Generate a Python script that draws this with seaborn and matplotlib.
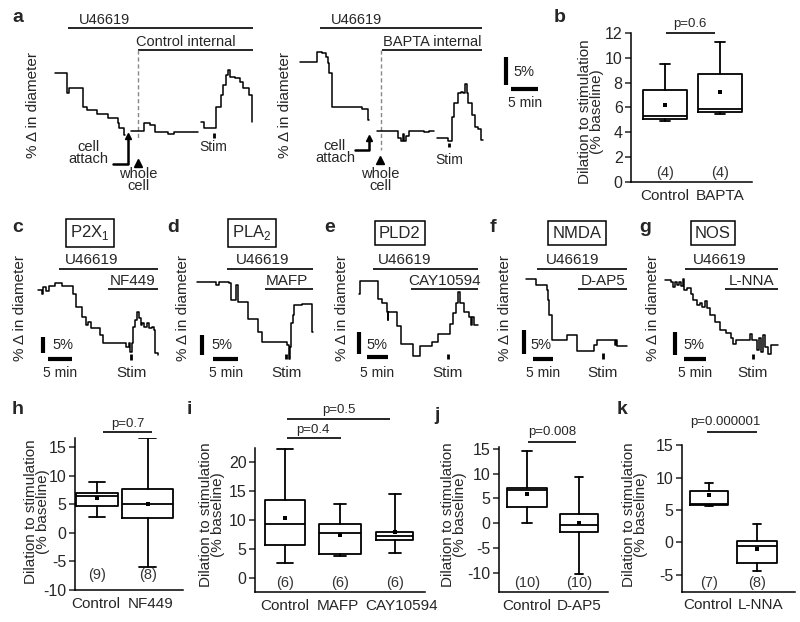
import pandas as pd
import matplotlib.pyplot as plt
import matplotlib.transforms as mtrans
import seaborn as sns

sns.set_style('ticks')
plt.rcParams['font.family'] = ['Liberation Sans', 'DejaVu Sans']
plt.rcParams['mathtext.fontset'] = 'custom'
plt.rcParams['mathtext.rm'] = 'Liberation Sans'
plt.rcParams['axes.unicode_minus'] = False

W, H = 800, 622

# ---- traces: time (min) and % change in diameter, one list per segment ----
a_ctrl_t = [[0, 2.3, 2.5, 5.2, 5.9, 7.8, 9.9, 11.7, 11.9, 12.8, 13.0],
            [14.1, 16.5, 17.6, 18.5, 21.0, 22.0, 26.5],
            [27.0, 27.5, 29.8, 30.7, 31.2, 31.6, 32.1, 32.4, 33.3, 34.3, 34.9, 36.0, 36.4, 36.5]]
a_ctrl_v = [[0, -3.6, -2.7, -6.0, -6.6, -7.3, -8.0, -8.9, -9.8, -11.1, -11.1],
            [-10.4, -8.9, -9.3, -10.6, -10.9, -10.5, -10.5],
            [-8.7, -9.9, -6.0, -3.9, -2.1, -0.4, 0.6, -0.7, -0.9, -1.6, -2.7, -3.9, -8.7, -8.7]]

a_bapta_t = [[0, 3.1, 4.0, 4.8, 5.1, 5.4, 5.9, 11.4, 12.5, 12.8],
             [14.2, 18.2, 18.7, 19.0, 19.3, 19.6, 20.1, 23.0, 23.9, 24.9],
             [25.3, 27.4, 28.2, 28.6, 29.2, 29.8, 30.1, 30.6, 30.9, 31.2, 31.8, 32.4, 32.9, 33.6, 33.8]]
a_bapta_v = [[0, 1.8, 1.6, 0.9, -0.3, -2.1, -8.0, -8.5, -10.4, -10.4],
             [-12.3, -13.7, -14.1, -12.9, -14.1, -13.3, -12.3, -12.6, -12.3, -12.3],
             [-13.7, -14.1, -9.8, -7.4, -5.6, -5.4, -5.6, -3.9, -5.6, -7.4, -9.5, -11.6, -12.0, -14.0, -14.0]]

c_t = [0, 0.7, 1.0, 1.7, 2.2, 3.5, 4.4, 4.9, 7.2, 7.8, 9.0, 9.9, 10.4, 10.9, 12.8, 13.5, 18.3,
       18.8, 19.2, 19.6, 19.8, 20.1, 20.5, 21.0, 21.4, 21.7, 22.1, 22.6, 23.1, 23.6, 24.0, 24.3, 25.0]
c_v = [0, -1.3, 0.8, -0.3, 1.2, 2.2, 2.0, 1.2, -1.3, -5.0, -8.2, -10.5, -9.5, -11.5, -13.5, -15.8, -17.0,
       -16.0, -18.5, -16.0, -11.0, -9.0, -6.5, -8.5, -10.5, -9.8, -11.0, -10.0, -11.5, -11.0, -12.0, -19.0, -19.5]

d_t = [0, 3.9, 4.5, 6.5, 6.8, 7.9, 8.3, 10.3, 12.3, 13.0, 18.0, 18.4, 18.7, 18.9, 19.2, 19.5, 21.0, 23.1, 23.3]
d_v = [0, -0.8, 0, -0.4, -4.6, -0.8, -5.0, -9.2, -12.5, -15.0, -15.8, -19.4, -16.2, -10.4, -8.3, -5.8,
       -5.6, -12.5, -12.5]

e_t = [0, 0.2, 4.5, 5.2, 6.4, 6.6, 6.8, 8.7, 9.8, 12.5, 14.2, 16.8, 18.3, 21.0, 21.8, 22.3, 22.8, 23.3, 24.2,
       25.4, 25.8, 26.1, 26.5, 27.5]
e_v = [-2.8, 0, -4.1, -4.9, -6.9, -8.7, -6.9, -10.0, -14.1, -16.7, -14.5, -13.6, -11.9, -9.6, -7.2, -5.0, -2.4,
       -5.0, -6.9, -8.0, -9.9, -8.0, -9.9, -9.9]

f_t = [0, 2.6, 5.25, 5.6, 5.9, 6.5, 10.25, 12.75, 17.1, 17.75, 22.3, 22.6, 22.8, 25.25]
f_v = [0, -1.2, -2.2, -4.3, -7.4, -12.6, -11.6, -14.9, -13.7, -12.6, -13.7, -12.6, -13.8, -13.8]

g_t = [0, 1.3, 1.8, 2.2, 2.7, 3.2, 3.8, 4.2, 4.5, 5.0, 5.9, 6.5, 7.3, 8.1, 8.5, 9.2, 9.6, 10.4, 11.5, 12.7,
       14.0, 15.2, 15.8, 16.5, 19.6, 20.1, 21.2, 21.8, 22.1, 22.7, 23.1, 23.8, 24.4, 26.2]
g_v = [0, -0.4, -1.6, -0.4, -1.1, -0.4, -1.3, 0.2, -2.1, -1.8, -2.9, -4.3, -5.4, -5.0, -5.7, -4.6, -6.1, -7.5,
       -8.9, -10.6, -11.3, -12.5, -13.8, -12.9, -11.6, -12.9, -15.0, -12.5, -15.4, -11.8, -14.3, -15.9, -13.9, -13.9]

# stimulation times (min)
stim_t = {'a1': 29.4, 'a2': 27.6, 'c': 19.4, 'd': 17.9, 'e': 20.6, 'f': 19.4, 'g': 20.4}

# ---- box plot summaries: whisker low, q1, median, q3, whisker high, mean, n ----
b_groups = ['Control', 'BAPTA']
b_lo = [4.9, 5.5]; b_q1 = [5.1, 5.6]; b_med = [5.3, 5.9]; b_q3 = [7.4, 8.7]; b_hi = [9.5, 11.3]
b_mean = [6.2, 7.2]; b_n = [4, 4]

h_groups = ['Control', 'NF449']
h_lo = [2.8, -5.9]; h_q1 = [4.7, 2.5]; h_med = [6.4, 5.1]; h_q3 = [7.0, 7.6]; h_hi = [8.8, 16.5]
h_mean = [6.0, 5.1]; h_n = [9, 8]

i_groups = ['Control', 'MAFP', 'CAY10594']
i_lo = [2.7, 3.9, 4.4]; i_q1 = [5.7, 4.2, 6.6]; i_med = [9.3, 7.7, 7.3]; i_q3 = [13.4, 9.3, 8.0]
i_hi = [22.2, 12.7, 14.5]; i_mean = [10.4, 7.5, 7.9]; i_n = [6, 6, 6]

j_groups = ['Control', 'D-AP5']
j_lo = [0.1, -10.1]; j_q1 = [3.3, -1.8]; j_med = [6.7, -0.3]; j_q3 = [7.2, 1.9]; j_hi = [14.5, 9.4]
j_mean = [6.0, 0.0]; j_n = [10, 10]

k_groups = ['Control', 'L-NNA']
k_lo = [5.6, -4.4]; k_q1 = [5.8, -3.2]; k_med = [5.9, -0.6]; k_q3 = [8.0, 0.25]; k_hi = [9.1, 2.9]
k_mean = [7.3, -1.1]; k_n = [7, 8]

fig = plt.figure(figsize=(W / 100, H / 100), dpi=100)

ov = fig.add_axes([0, 0, 1, 1])
ov.set_xlim(0, W)
ov.set_ylim(H, 0)
ov.axis('off')


def px_rect(l, t, r, b):
    return [l / W, 1 - b / H, (r - l) / W, (b - t) / H]


def txt(x, y, s, size=10.5, **kw):
    kw.setdefault('ha', 'center')
    kw.setdefault('va', 'center')
    ov.text(x, y, s, fontsize=size, **kw)


def hbar(x1, x2, y, lw=1.2):
    ov.plot([x1, x2], [y, y], color='k', lw=lw, solid_capstyle='butt')


def trace_panel(t_segs, v_segs, x0, y0, ppm, ppp, stim, stim_v, scale=None):
    ax = fig.add_axes([0, 0, 1, 1])
    rows = [(k, t, v) for k, (ts, vs) in enumerate(zip(t_segs, v_segs)) for t, v in zip(ts, vs)]
    df = pd.DataFrame(rows, columns=['seg', 't', 'v'])
    sns.lineplot(data=df, x='t', y='v', units='seg', estimator=None, drawstyle='steps-post',
                 color='k', lw=1.1, legend=False, ax=ax)
    ax.plot([stim, stim], stim_v, color='k', lw=2, solid_capstyle='butt')
    if scale is not None:
        vx, vy, hx, hy = scale
        ax.plot([vx, vx], [vy, vy + 5], color='k', lw=3, solid_capstyle='butt')
        ax.plot([hx, hx + 5], [hy, hy], color='k', lw=3, solid_capstyle='butt')
    ax.set_xlim(-x0 / ppm, (W - x0) / ppm)
    ax.set_ylim((y0 - H) / ppp, y0 / ppp)
    ax.axis('off')
    return ax


def box_panel(rect, ylim, yticks, groups, lo, q1, med, q3, hi, mean, n, n_y, xlim, widths, capw,
              shifts=None):
    ax = fig.add_axes(px_rect(*rect))
    ax.patch.set_alpha(0)
    stats = [dict(whislo=a, q1=b, med=c, q3=d, whishi=e, mean=m, fliers=[])
             for a, b, c, d, e, m in zip(lo, q1, med, q3, hi, mean)]
    pos = list(range(len(groups)))
    lp = dict(color='k', lw=1.3)
    ax.bxp(stats, positions=pos, widths=widths, capwidths=capw, showmeans=True, showfliers=False,
           boxprops=lp, whiskerprops=lp, capprops=lp, medianprops=lp,
           meanprops=dict(marker='s', markersize=2.6, markeredgewidth=0, markerfacecolor='k'))
    ax.set_xlim(xlim)
    ax.set_ylim(ylim)
    ax.set_yticks(yticks)
    ax.set_xticks(pos, groups)
    ax.tick_params(axis='x', length=0, pad=5, labelsize=11)
    ax.tick_params(axis='y', length=4, width=1.1, pad=2, labelsize=11.5)
    if shifts:
        for lab, dx in zip(ax.get_xticklabels(), shifts):
            lab.set_transform(lab.get_transform() + mtrans.ScaledTranslation(dx / 100, 0, fig.dpi_scale_trans))
    for p, k in zip(pos, n):
        ax.text(p, n_y, f'({k})', ha='center', va='center', fontsize=10.5, color='#333333')
    sns.despine(ax=ax)
    for s in ['left', 'bottom']:
        ax.spines[s].set_linewidth(1.1)
        ax.spines[s].set_color('k')
    return ax


# ---------------- panel a ----------------
trace_panel(a_ctrl_t, a_ctrl_v, 55, 73, 5.4, 5.6, stim_t['a1'], [-10.8, -11.6],
            scale=(83.5, -2.1, 84.4, -2.9))
trace_panel(a_bapta_t, a_bapta_v, 300, 61.7, 5.4, 5.6, stim_t['a2'], [-14.5, -15.3])

txt(18, 18, 'a', size=14, weight='bold')
txt(105, 20, 'U46619')
hbar(68, 253, 28)
txt(186, 42, 'Control internal')
hbar(138, 253, 50)
ov.plot([138, 138], [50, 140], color='#888888', lw=1, ls=(0, (3, 2)))
txt(33, 105, '% Δ in diameter', size=11, rotation=90)
txt(88, 153, 'cell\nattach', linespacing=0.9)
ov.plot([113, 128, 128], [164, 164, 139], color='k', lw=1.8)
ov.plot([128], [136], marker='^', ms=5, color='k')
ov.plot([138], [163], marker='^', ms=6, color='k')
txt(138, 180, 'whole\ncell', linespacing=0.9)
txt(213, 147, 'Stim', size=10)

txt(357, 20, 'U46619')
hbar(320, 482, 28)
txt(432, 42, 'BAPTA internal')
hbar(382, 482, 50)
ov.plot([381, 381], [50, 150], color='#888888', lw=1, ls=(0, (3, 2)))
txt(285, 105, '% Δ in diameter', size=11, rotation=90)
txt(335, 152, 'cell\nattach', linespacing=0.9)
ov.plot([355, 369, 369], [150, 150, 141], color='k', lw=1.8)
ov.plot([369], [138], marker='^', ms=5, color='k')
ov.plot([380], [160], marker='^', ms=6, color='k')
txt(380, 180, 'whole\ncell', linespacing=0.9)
txt(449, 160, 'Stim', size=10)
txt(513, 72, '5%', ha='left')
txt(525, 103, '5 min', size=10)

# ---------------- panel b ----------------
box_panel((631, 33, 752, 181.7), (0, 12), range(0, 13, 2), b_groups, b_lo, b_q1, b_med, b_q3, b_hi,
          b_mean, b_n, 0.7, (-0.62, 1.58), [0.8, 0.8], [0.18, 0.18])
txt(560, 18, 'b', size=14, weight='bold')
txt(591, 112, 'Dilation to stimulation\n(% baseline)', size=11, rotation=90, linespacing=0.85)
hbar(666, 715, 33)
txt(690, 24, 'p=0.6', size=9.5)

# ---------------- panels c-g ----------------
rows = [
    ('c', 18, 'P2X$_\\mathregular{1}$', 90, 20, c_t, c_v, 38.3, 290, 4.8, 3.33, [-19.2, -21.0],
     (1.0, -19.0, 2.1, -20.8), (59, 158, 92), ('NF449', 108, 158, 133), 52, 60, 132),
    ('d', 173, 'PLA$_\\mathregular{2}$', 252, 183, d_t, d_v, 196.7, 281.7, 5.0, 4.0, [-18.1, -19.4],
     (1.1, -18.3, 3.3, -19.4), (227, 313, 263), ('MAFP', 265, 313, 287), 211, 226, 287),
    ('e', 330, 'PLD2', 400, 342, e_t, e_v, 359, 281, 4.33, 4.47, [-16.3, -17.5],
     (0.0, -16.3, 1.8, -16.9), (373, 478, 405), ('CAY10594', 411, 478, 445), 366, 377, 448),
    ('f', 493, 'NMDA', 577, 505, f_t, f_v, 525.7, 279.3, 4.0, 4.8, [-15.4, -16.5],
     (-0.4, -15.6, 1.9, -16.7), (537, 627, 573), ('D-AP5', 578, 627, 603), 530, 543, 603),
    ('g', 645, 'NOS', 713, 653, g_t, g_v, 665, 280, 4.33, 4.67, [-15.9, -17.0],
     (2.3, -16.1, 4.5, -17.0), (685, 778, 720), ('L-NNA', 725, 778, 752), 683, 695, 753),
]
for (let, lx, name, bx, ylx, ts, vs, x0, y0, ppm, ppp, sv, sc, u, drug, pctx, minx, stimx) in rows:
    trace_panel([ts], [vs], x0, y0, ppm, ppp, stim_t[let], sv, scale=sc)
    txt(lx, 228, let, size=14, weight='bold')
    txt(bx, 233, name, size=12,
        bbox=dict(boxstyle='square,pad=0.25', fc='white', ec='k', lw=1.1))
    txt(u[2], 260, 'U46619', size=11)
    hbar(u[0], u[1], 269)
    txt(drug[3], 281, drug[0], size=11)
    hbar(drug[1], drug[2], 289)
    txt(ylx, 308, '% Δ in diameter', size=11, rotation=90)
    txt(pctx, 345, '5%', size=10.5, ha='left')
    txt(minx, 373, '5 min', size=10)
    txt(stimx, 373, 'Stim', size=11)

# ---------------- panels h-k ----------------
box_panel((75, 438.3, 183, 590), (-10, 16.5), range(-10, 16, 5), h_groups, h_lo, h_q1, h_med, h_q3, h_hi,
          h_mean, h_n, -7.4, (-0.43, 1.69), [0.84, 1.0], [0.3, 0.33], shifts=[-1, 3])
txt(18, 410, 'h', size=14, weight='bold')
txt(37, 512, 'Dilation to stimulation\n(% baseline)', size=11, rotation=90, linespacing=0.85)
hbar(103, 152, 431.7)
txt(128, 424, 'p=0.7', size=9.5)

box_panel((255, 448.3, 425, 591.7), (-2.3, 22.3), range(0, 21, 5), i_groups, i_lo, i_q1, i_med, i_q3, i_hi,
          i_mean, i_n, -0.8, (-0.55, 2.55), [0.74, 0.76, 0.67], [0.29, 0.22, 0.22], shifts=[0, -2, 7])
txt(189, 410, 'i', size=14, weight='bold')
txt(212, 515, 'Dilation to stimulation\n(% baseline)', size=11, rotation=90, linespacing=0.85)
hbar(287, 341, 438.3)
txt(313, 430, 'p=0.4', size=9.5)
hbar(287, 390, 419.3)
txt(339, 410, 'p=0.5', size=9.5)

box_panel((499, 446.8, 608, 591.9), (-13.8, 15.4), range(-10, 16, 5), j_groups, j_lo, j_q1, j_med, j_q3, j_hi,
          j_mean, j_n, -12.1, (-0.54, 1.56), [0.77, 0.73], [0.18, 0.14])
txt(437, 415, 'j', size=14, weight='bold')
txt(454, 515, 'Dilation to stimulation\n(% baseline)', size=11, rotation=90, linespacing=0.85)
hbar(528, 576, 441.7)
txt(552, 432, 'p=0.008', size=9.5)

box_panel((682, 445.3, 795, 591.5), (-7.6, 15), range(-5, 16, 5), k_groups, k_lo, k_q1, k_med, k_q3, k_hi,
          k_mean, k_n, -6.3, (-0.56, 1.79), [0.79, 0.82], [0.15, 0.15], shifts=[-1, 4])
txt(622, 410, 'k', size=14, weight='bold')
txt(635, 515, 'Dilation to stimulation\n(% baseline)', size=11, rotation=90, linespacing=0.85)
hbar(707, 757, 431.7)
txt(725, 422, 'p=0.000001', size=9.5)

fig.savefig('out.png', dpi=100)
